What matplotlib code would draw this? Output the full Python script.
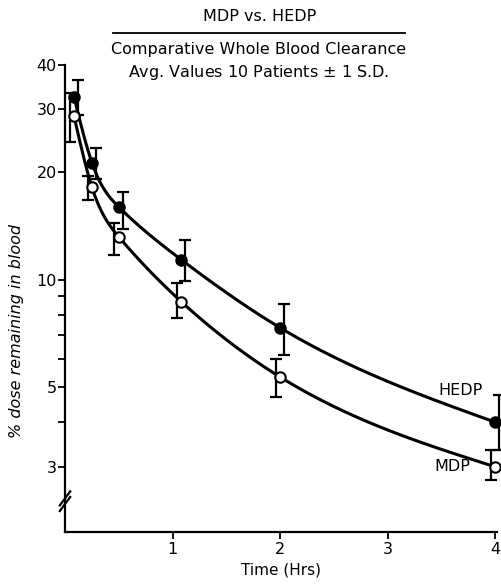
import numpy as np
import matplotlib
matplotlib.use("Agg")
import matplotlib.pyplot as plt

# values (% dose remaining in blood)
time_hrs = [0.083, 0.25, 0.5, 1.08, 2.0, 4.0]
hedp_mean = [32.6, 21.3, 16.0, 11.4, 7.35, 4.0]
hedp_upper = [36.3, 23.4, 17.6, 12.9, 8.55, 4.75]
hedp_lower = [28.9, 19.2, 13.9, 9.9, 6.15, 3.35]
mdp_mean = [28.8, 18.2, 13.2, 8.7, 5.35, 3.0]
mdp_upper = [33.3, 19.6, 14.4, 9.8, 6.0, 3.35]
mdp_lower = [24.3, 16.7, 11.75, 7.8, 4.7, 2.75]

y_ticks = [3, 5, 10, 20, 30, 40]
y_minor = [4, 6, 7, 8, 9]
x_ticks = [1, 2, 3, 4]


def smooth_curve(x, y, n=400):
    # natural cubic spline through the points, in log space
    x = np.asarray(x, float)
    y = np.log10(np.asarray(y, float))
    N = len(x)
    h = np.diff(x)
    A = np.zeros((N, N))
    b = np.zeros(N)
    A[0, 0] = A[-1, -1] = 1
    for i in range(1, N - 1):
        A[i, i - 1] = h[i - 1]
        A[i, i] = 2 * (h[i - 1] + h[i])
        A[i, i + 1] = h[i]
        b[i] = 6 * ((y[i + 1] - y[i]) / h[i] - (y[i] - y[i - 1]) / h[i - 1])
    M = np.linalg.solve(A, b)
    xs = np.linspace(x[0], x[-1], n)
    i = np.clip(np.searchsorted(x, xs) - 1, 0, N - 2)
    a = x[i + 1] - xs
    c = xs - x[i]
    ys = (M[i] * a**3 + M[i + 1] * c**3) / (6 * h[i]) \
        + (y[i] / h[i] - M[i] * h[i] / 6) * a + (y[i + 1] / h[i] - M[i + 1] * h[i] / 6) * c
    return xs, 10**ys


fig = plt.figure(figsize=(5.02, 5.84), dpi=100)
ax = fig.add_axes([0.1295, 0.089, 0.861, 0.80])

t = np.array(time_hrs)
bar_off = 0.04

for mean, lo, hi, face, off in [(hedp_mean, hedp_lower, hedp_upper, "black", bar_off),
                                (mdp_mean, mdp_lower, mdp_upper, "white", -bar_off)]:
    mean = np.array(mean)
    xs, ys = smooth_curve(t, mean)
    ax.plot(xs, ys, color="black", lw=2.2, zorder=2)
    ax.errorbar(t + off, mean, yerr=[mean - np.array(lo), np.array(hi) - mean],
                fmt="none", ecolor="black", elinewidth=1.6, capsize=4, capthick=1.6,
                zorder=3, clip_on=False)
    ax.plot(t, mean, "o", ms=7.5, mfc=face, mec="black", mew=1.5, zorder=4, clip_on=False)

ax.set_yscale("log")
ax.set_ylim(1.97, 40)
ax.set_xlim(0, 4.02)
ax.set_yticks(y_ticks)
ax.set_yticklabels([str(v) for v in y_ticks])
ax.set_yticks(y_minor, minor=True)
ax.yaxis.set_minor_formatter(plt.NullFormatter())
ax.set_xticks(x_ticks)
ax.set_xticklabels([str(v) for v in x_ticks])

for s in ["top", "right"]:
    ax.spines[s].set_visible(False)
for s in ["left", "bottom"]:
    ax.spines[s].set_linewidth(1.6)
ax.tick_params(axis="both", which="both", direction="out", width=1.3, labelsize=11.5)
ax.tick_params(axis="y", which="major", length=5, pad=1)
ax.tick_params(axis="y", which="minor", length=5)
ax.tick_params(axis="x", length=5, pad=2)

# axis break marks
for dy in (0.0, 0.012):
    ax.plot([-0.012, 0.012], [0.045 + dy, 0.075 + dy], transform=ax.transAxes,
            color="black", lw=1.6, clip_on=False)

ax.set_xlabel("Time (Hrs)", fontsize=11, labelpad=4)
ax.set_ylabel("% dose remaining in blood", fontsize=11.5, style="italic")
ax.yaxis.set_label_coords(-0.095, 0.43)

ax.text(3.68, 4.9, "HEDP", fontsize=11.5, ha="center", va="center")
ax.text(3.6, 3.0, "MDP", fontsize=11.5, ha="center", va="center")

fig.text(0.518, 0.971, "MDP vs. HEDP", fontsize=11.5, ha="center", va="center")
fig.add_artist(plt.Line2D([0.225, 0.807], [0.943, 0.943], color="black", lw=1.3))
fig.text(0.516, 0.916, "Comparative Whole Blood Clearance", fontsize=11.5, ha="center", va="center")
fig.text(0.516, 0.875, "Avg. Values 10 Patients $\\pm$ 1 S.D.", fontsize=11.5, ha="center", va="center")

fig.savefig("out.png", dpi=100)
